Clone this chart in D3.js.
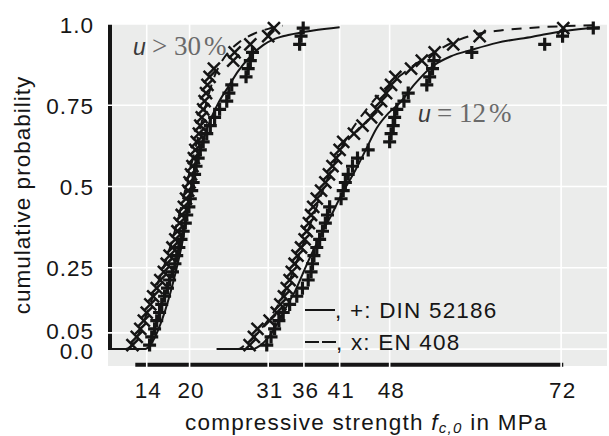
<!DOCTYPE html>
<html><head><meta charset="utf-8">
<script src="https://cdn.jsdelivr.net/npm/d3@7"></script>
<style>body{margin:0;background:#fff} svg{display:block}</style>
</head><body>
<svg id="c" width="609" height="436"></svg>
<script>
// ---- data ----
const xTicks = [14, 20, 31, 36, 41, 48, 72];
const yTicks = [0, 0.05, 0.25, 0.5, 0.75, 1.0];
const yTickLabels = ["0.0", "0.05", "0.25", "0.5", "0.75", "1.0"];
const xDomain = [8.58, 78.42];
const yDomain = [-0.052, 1];
const xFrame = [12.4, 72.3];
const yFrame = [0, 1];

// plotting positions of the ranked specimens
const plotPos = [0.0125,0.0375,0.0625,0.0875,0.1125,0.1375,0.1625,0.1875,0.2125,0.2375,
  0.2625,0.2875,0.3125,0.3375,0.3625,0.3875,0.4125,0.4375,0.4625,0.4875,
  0.5125,0.5375,0.5625,0.5875,0.6125,0.6375,0.6625,0.6875,0.7125,0.7375,
  0.7625,0.7875,0.8125,0.8375,0.8625,0.8875,0.9125,0.9375,0.9625,0.9875];

// DIN 52186 (+), u > 30 %
const dinWet = [14.4,14.7,15.1,15.4,15.8,16.1,16.5,16.9,17.2,17.6,17.95,18.2,18.5,18.8,19.1,19.4,19.6,19.9,20.1,20.3,
  20.5,20.7,20.9,21.2,21.5,21.9,22.4,22.9,23.5,24.2,25.2,25.5,25.9,27.9,28.2,28.5,28.8,35.4,35.6,35.9];
// EN 408 (x), u > 30 %
const enWet = [12.0,12.6,13.1,13.6,14.0,14.5,14.9,15.4,15.9,16.4,16.8,17.2,17.6,18.0,18.3,18.6,18.9,19.2,19.5,19.8,
  20.0,20.2,20.4,20.6,20.8,21.0,21.3,21.5,21.7,21.9,22.1,22.3,22.5,22.8,23.4,26.1,26.3,28.5,31.0,31.8];
// DIN 52186 (+), u = 12 %
const dinDry = [30.8,31.4,31.9,32.5,33.1,34.0,35.0,35.8,36.6,37.0,37.2,37.4,37.8,38.2,38.6,39.0,39.3,39.6,41.2,41.5,
  41.8,42.2,42.8,43.5,45.0,48.0,48.2,48.5,48.7,49.0,50.0,50.6,53.2,53.6,54.0,54.2,59.5,69.7,72.2,76.5];
// EN 408 (x), u = 12 %
const enDry = [28.4,29.0,29.5,31.2,32.2,32.7,33.2,33.6,34.0,34.3,34.7,35.1,35.6,36.1,36.4,36.7,37.0,37.3,37.8,38.4,
  39.0,39.5,40.0,40.5,41.0,41.5,43.0,44.2,45.4,46.2,46.8,47.5,48.2,48.8,51.0,52.5,54.3,56.9,60.6,72.3];

// fitted distribution curves [MPa, probability]
const fitDinWet = [[8.6,0],[13.8,0],[14.4,0.01],[15,0.03],[15.8,0.07],[16.6,0.12],[17.4,0.18],[18.2,0.25],[19,0.33],
  [19.7,0.42],[20.3,0.5],[21.1,0.58],[22,0.65],[23,0.71],[24.1,0.76],[25.5,0.81],[26.8,0.855],[28.5,0.9],[30.3,0.935],
  [32,0.955],[34,0.967],[37.3,0.98],[41,0.99]];
const fitEnWet = [[8.6,0],[11,0],[11.8,0.01],[12.6,0.035],[13.5,0.08],[14.5,0.14],[15.5,0.2],[16.5,0.26],[17.5,0.33],
  [18.5,0.41],[19.5,0.5],[20.5,0.59],[21.5,0.68],[22.5,0.77],[23.5,0.84],[24.5,0.885],[25.5,0.915],[27,0.945],
  [29,0.97],[31,0.985],[33,0.995]];
const fitDinDry = [[23.8,0],[28.8,0],[29.8,0.01],[30.8,0.03],[31.8,0.06],[32.8,0.1],[33.8,0.14],[34.8,0.18],[35.8,0.23],
  [36.8,0.28],[37.8,0.325],[38.8,0.37],[39.8,0.41],[40.8,0.455],[41.9,0.5],[43.2,0.55],[44.7,0.615],[46.2,0.68],
  [47.8,0.725],[49.4,0.757],[51.5,0.815],[54,0.87],[56.5,0.9],[59.7,0.922],[63,0.942],[68,0.961],[72.3,0.978],[77.4,0.99]];
const fitEnDry = [[23.8,0],[26.8,0],[27.6,0.01],[28.5,0.025],[29.5,0.05],[30.5,0.075],[31.5,0.105],[32.5,0.14],
  [33.5,0.185],[34.5,0.24],[35.5,0.3],[36.5,0.36],[37.5,0.42],[38.5,0.48],[39.5,0.535],[40.5,0.585],[41.5,0.63],
  [43,0.685],[44.5,0.73],[46,0.77],[48,0.815],[50,0.85],[51.5,0.875],[54,0.91],[57,0.945],[60,0.968],[63.5,0.98],
  [67.6,0.988],[72,0.993],[77,0.996]];

// ---- drawing ----
const svg = d3.select("#c");
const x = d3.scaleLinear().domain(xDomain).range([108, 607]);
const y = d3.scaleLinear().domain(yDomain).range([366, 24]);
const font = "'Liberation Sans', Arial, sans-serif";
const ink = "#151515";
const txt = "#161616";

svg.append("rect").attr("x", 108).attr("y", 24).attr("width", 499).attr("height", 342).attr("fill", "#ebeceb");

// axis range frames
svg.append("line").attr("x1", 110).attr("x2", 110).attr("y1", y(yFrame[1])).attr("y2", y(yFrame[0]))
  .attr("stroke", ink).attr("stroke-width", 4);
svg.append("line").attr("x1", x(xFrame[0])).attr("x2", x(xFrame[1])).attr("y1", 364.7).attr("y2", 364.7)
  .attr("stroke", ink).attr("stroke-width", 4);

// grid
const grid = svg.append("g").attr("stroke", "#fff").attr("stroke-width", 1.6);
grid.selectAll("line.h").data(yTicks).join("line").attr("class", "h")
  .attr("x1", 108).attr("x2", 607).attr("y1", d => y(d)).attr("y2", d => y(d));
grid.selectAll("line.v").data(xTicks).join("line").attr("class", "v")
  .attr("y1", 24).attr("y2", 367).attr("x1", d => x(d)).attr("x2", d => x(d));

// axes labels via d3 axes
const yAxis = d3.axisLeft(y).tickValues(yTicks).tickFormat((d, i) => yTickLabels[i]).tickSize(0).tickPadding(0);
const gy = svg.append("g").attr("transform", "translate(94,0)").call(yAxis);
const xAxis = d3.axisBottom(x).tickValues(xTicks).tickFormat(d3.format("d")).tickSize(0).tickPadding(0);
const gx = svg.append("g").attr("transform", "translate(1,382)").call(xAxis);
[gy, gx].forEach(g => {
  g.select(".domain").remove();
  g.selectAll("text").attr("font-family", font).attr("font-size", 22.5).attr("fill", txt)
    .style("letter-spacing", "1px");
});
gy.selectAll("text").attr("dy", "0.36em").attr("x", 0);
// the two lowest labels sit very close together: nudge them apart slightly
gy.selectAll(".tick").filter(d => d === 0.05).select("text").attr("y", -2);
gy.selectAll(".tick").filter(d => d === 0).select("text").attr("y", 1.5);
gx.selectAll("text").attr("dy", "0.71em");

// clip
svg.append("clipPath").attr("id", "pc").append("rect").attr("x", 108).attr("y", 20).attr("width", 501).attr("height", 346);
const plot = svg.append("g").attr("clip-path", "url(#pc)");

const line = d3.line().x(d => x(d[0])).y(d => y(d[1])).curve(d3.curveMonotoneX);
[[fitDinWet, null], [fitEnWet, "10,8"], [fitDinDry, null], [fitEnDry, "10,8"]].forEach(([data, dash]) => {
  plot.append("path").attr("d", line(data)).attr("fill", "none").attr("stroke", ink)
    .attr("stroke-width", 2).attr("stroke-dasharray", dash);
});

const plusPath = "M-6.5,0H6.5M0,-6.5V6.5";
const crossPath = "M-6,-6L6,6M-6,6L6,-6";
function markers(vals, path, sw) {
  plot.append("g").selectAll("path").data(vals).join("path")
    .attr("d", path)
    .attr("transform", (d, i) => `translate(${x(d)},${y(plotPos[i])})`)
    .attr("fill", "none").attr("stroke", ink).attr("stroke-width", sw);
}
markers(enWet, crossPath, 2.5);
markers(enDry, crossPath, 2.5);
markers(dinWet, plusPath, 3.2);
markers(dinDry, plusPath, 3.2);

// annotations
function annot(xs, yb, op, num) {
  svg.append("text").attr("x", xs).attr("y", yb).attr("font-family", font).attr("font-style", "italic")
    .attr("font-size", 23).attr("fill", "#3a3a3a").text("u");
  svg.append("text").attr("x", xs + 19).attr("y", yb).attr("font-family", "'Liberation Serif', serif")
    .attr("font-size", 27).attr("fill", "#6a6a6a").text(op);
  svg.append("text").attr("x", xs + 41).attr("y", yb).attr("font-family", "'Liberation Serif', serif")
    .attr("font-size", 27).attr("fill", "#6a6a6a").text(num);
  svg.append("text").attr("x", xs + 71).attr("y", yb).attr("font-family", "'Liberation Serif', serif")
    .attr("font-size", 27).attr("fill", "#6a6a6a").text("%");
}
annot(133, 55, ">", "30");
annot(418, 122, "=", "12");

// legend
svg.append("line").attr("x1", 305).attr("x2", 335).attr("y1", 310).attr("y2", 310).attr("stroke", ink).attr("stroke-width", 2);
svg.append("line").attr("x1", 305).attr("x2", 337).attr("y1", 342).attr("y2", 342).attr("stroke", ink)
  .attr("stroke-width", 2).attr("stroke-dasharray", "14,3");
svg.append("text").attr("x", 335).attr("y", 318).attr("font-family", font).attr("font-size", 22.5).attr("fill", txt)
  .style("letter-spacing", "1.2px").text(", +: DIN 52186");
svg.append("text").attr("x", 336).attr("y", 350).attr("font-family", font).attr("font-size", 22.5).attr("fill", txt)
  .style("letter-spacing", "1.2px").text(", x: EN 408");

// axis titles
const xt = svg.append("text").attr("x", 185).attr("y", 430).attr("font-family", font).attr("font-size", 22.5)
  .attr("fill", txt).style("letter-spacing", "1.25px");
xt.append("tspan").text("compressive strength ");
xt.append("tspan").attr("font-style", "italic").text("f");
xt.append("tspan").attr("font-size", 15).attr("font-style", "italic").attr("dy", 3).text("c,0");
xt.append("tspan").attr("dy", -3).text(" in MPa");

svg.append("text").attr("transform", "translate(30,195) rotate(-90)").attr("text-anchor", "middle")
  .attr("font-family", font).attr("font-size", 22.5).attr("fill", txt).style("letter-spacing", "1px")
  .text("cumulative probability");
</script>
</body></html>
